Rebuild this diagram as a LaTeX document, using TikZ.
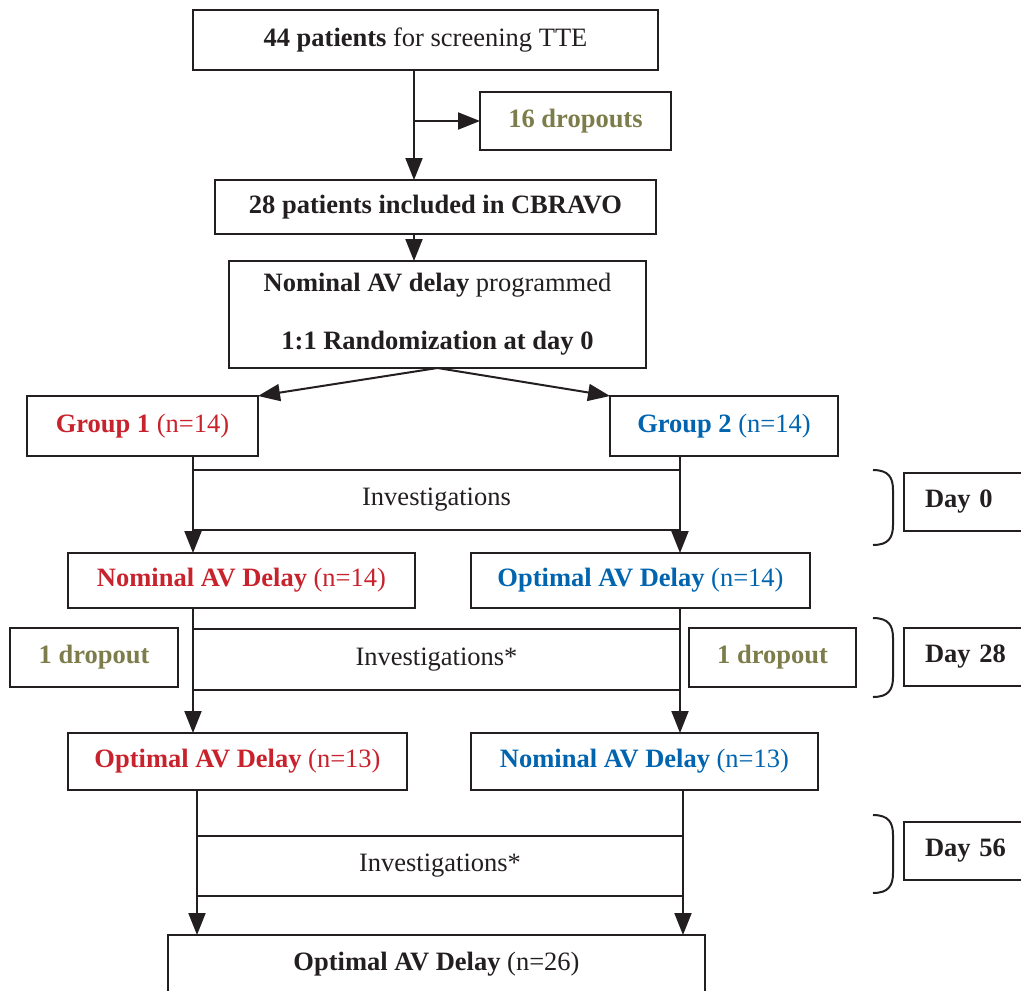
\documentclass[tikz,border=0pt]{standalone}
\usepackage{fontspec}
\setmainfont{Liberation Serif}
\usetikzlibrary{arrows.meta}
\definecolor{inkblack}{RGB}{35,31,32}
\definecolor{grpred}{RGB}{200,35,45}
\definecolor{grpblue}{RGB}{0,100,175}
\definecolor{dropolive}{RGB}{125,125,75}
\newcommand*\linew{2pt}
\newcommand*\boxfont{\fontsize{26.5}{32}\selectfont}
\tikzset{
    box/.style     = {draw=inkblack, line width=\linew, inner sep=0pt, outer sep=0pt,
                     text=inkblack, font=\boxfont},
    redbox/.style  = {box, text=grpred},
    bluebox/.style = {box, text=grpblue},
    dropbox/.style = {box, text=dropolive, font=\boxfont\bfseries},
    invbox/.style  = {box, minimum width=487pt, minimum height=60pt},
    daybox/.style  = {box, font=\boxfont\bfseries, text width=92pt, inner xsep=21pt,
                     align=left, minimum height=58pt, anchor=west},
    arr/.style     = {draw=inkblack, line width=\linew, -{Triangle[length=22pt,width=17pt]}},
    line/.style    = {draw=inkblack, line width=\linew},
  }
\begin{document}
\begin{tikzpicture}[x=1pt, y=-1pt]
    \clip (0,0) rectangle (1021,991);

    % Top of the flow
    \node[box, minimum width=465pt, minimum height=60pt] (screen) at (425.5,40)
        {\textbf{44 patients} for screening TTE};
    \node[dropbox, minimum width=191pt, minimum height=58pt] (drop16) at (575.5,121) {16 dropouts};
    \node[box, minimum width=441pt, minimum height=54pt] (cbravo) at (435.5,207)
        {\textbf{28 patients included in CBRAVO}};
    \node[box, minimum width=417pt, minimum height=107pt, align=center] (random) at (437.5,314.5)
        {\textbf{Nominal AV delay} programmed\\[26pt]\textbf{1:1 Randomization at day 0}};
    \coordinate (trunk) at (414,0);

    \draw[arr] (screen.south -| trunk) -- (cbravo.north -| trunk);
    \draw[arr] (trunk |- drop16.west) -- (drop16.west);
    \draw[arr] (cbravo.south -| trunk) -- (random.north -| trunk);

    % Groups
    \node[redbox, minimum width=231pt, minimum height=60pt] (grpA) at (142.5,426)
        {\textbf{Group 1} (n=14)};
    \node[bluebox, minimum width=228pt, minimum height=60pt] (grpB) at (724,426)
        {\textbf{Group 2} (n=14)};
    \draw[arr] (random.south) -- (grpA.north east);
    \draw[arr] (random.south) -- (grpB.north west);

    % Day 0
    \node[invbox] (invA) at (436.5,500) {Investigations};
    \node[redbox, minimum width=347pt, minimum height=55pt] (nomA) at (241.5,580.5)
        {\textbf{Nominal AV Delay} (n=14)};
    \node[bluebox, minimum width=339pt, minimum height=55pt] (optB) at (640.5,580.5)
        {\textbf{Optimal AV Delay} (n=14)};
    \draw[arr] (grpA.south -| invA.west) -- (nomA.north -| invA.west);
    \draw[arr] (grpB.south -| invA.east) -- (optB.north -| invA.east);

    % Day 28
    \node[invbox, minimum height=61pt] (invB) at (436.5,659.5) {Investigations*};
    \node[dropbox, minimum width=168pt, minimum height=59pt] (dropA) at (94,657.5) {1 dropout};
    \node[dropbox, minimum width=167pt, minimum height=59pt] (dropB) at (772.5,657.5) {1 dropout};
    \node[redbox, minimum width=339pt, minimum height=57pt] (optA) at (237.5,761.5)
        {\textbf{Optimal AV Delay} (n=13)};
    \node[bluebox, minimum width=347pt, minimum height=57pt] (nomB) at (644.5,761.5)
        {\textbf{Nominal AV Delay} (n=13)};
    \draw[arr] (nomA.south -| invB.west) -- (optA.north -| invB.west);
    \draw[arr] (optB.south -| invB.east) -- (nomB.north -| invB.east);

    % Day 56
    \node[invbox, minimum width=486pt] (invC) at (440,866) {Investigations*};
    \node[box, minimum width=537pt, minimum height=58pt] (final) at (436.5,964)
        {\textbf{Optimal AV Delay} (n=26)};
    \draw[arr] (optA.south -| invC.west) -- (final.north -| invC.west);
    \draw[arr] (nomB.south -| invC.east) -- (final.north -| invC.east);

    % Day labels with their brackets
    \foreach \t/\b in {470/545, 618/697, 815/893} {
        \draw[line] (873,\t) .. controls (889,\t) and (893,\t+8) .. (893,\t+20)
            -- (893,\b-20) .. controls (893,\b-8) and (889,\b) .. (873,\b);
    }
    \foreach \d/\y in {0/501.5, 28/657, 56/851} {
        \node[daybox] (day\d) at (904,\y) {Day \d};
    }
\end{tikzpicture}
\end{document}
